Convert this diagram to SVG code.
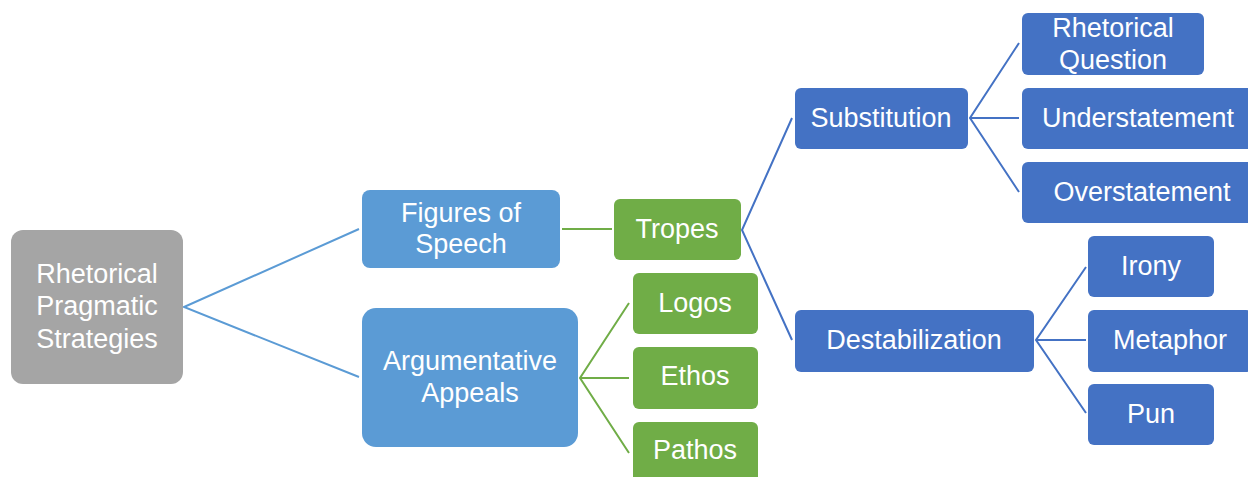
<svg xmlns="http://www.w3.org/2000/svg" width="1248" height="477" viewBox="0 0 1248 477">
<style>
text{font-family:"Liberation Sans",Arial,sans-serif;font-size:27px;fill:#fff;text-anchor:middle}
.gray{fill:#A5A5A5}
.lb{fill:#5B9BD5}
.gr{fill:#70AD47}
.db{fill:#4472C4}
.c{fill:none;stroke-width:2}
.cl{stroke:#5B9BD5}
.cg{stroke:#70AD47}
.cd{stroke:#4472C4}
</style>
<rect width="1248" height="477" fill="#fff"/>
<g id="connectors">
<polyline class="c cl" points="359,229 184,307 359,377"/>
<line class="c cg" x1="562" y1="229" x2="612" y2="229"/>
<polyline class="c cg" points="629,303 580,378 629,453"/>
<line class="c cg" x1="580" y1="378" x2="629" y2="378"/>
<polyline class="c cd" points="792,118 742,230 792,340"/>
<polyline class="c cd" points="1019,43 970,118 1019,192"/>
<line class="c cd" x1="970" y1="118" x2="1019" y2="118"/>
<polyline class="c cd" points="1086,267 1036,340 1086,413"/>
<line class="c cd" x1="1036" y1="340" x2="1086" y2="340"/>
</g>
<g id="root"><rect class="gray" x="11" y="230" width="172" height="154" rx="12"/><text x="97" y="283">Rhetorical</text><text x="97" y="315">Pragmatic</text><text x="97" y="348">Strategies</text></g>
<g id="figures"><rect class="lb" x="362" y="190" width="198" height="78" rx="8"/><text x="461" y="222">Figures of</text><text x="461" y="253">Speech</text></g>
<g id="appeals"><rect class="lb" x="362" y="308" width="216" height="139" rx="14"/><text x="470" y="370">Argumentative</text><text x="470" y="402">Appeals</text></g>
<g id="tropes"><rect class="gr" x="614" y="199" width="127" height="61" rx="6"/><text x="677" y="238">Tropes</text></g>
<g id="logos"><rect class="gr" x="633" y="273" width="125" height="61" rx="6"/><text x="695" y="312">Logos</text></g>
<g id="ethos"><rect class="gr" x="633" y="347" width="125" height="62" rx="6"/><text x="695" y="385">Ethos</text></g>
<g id="pathos"><rect class="gr" x="633" y="422" width="125" height="62" rx="6"/><text x="695" y="459">Pathos</text></g>
<g id="substitution"><rect class="db" x="795" y="88" width="173" height="61" rx="6"/><text x="881" y="127">Substitution</text></g>
<g id="destabilization"><rect class="db" x="795" y="310" width="239" height="62" rx="6"/><text x="914" y="349">Destabilization</text></g>
<g id="rq"><rect class="db" x="1022" y="13" width="182" height="62" rx="6"/><text x="1113" y="37">Rhetorical</text><text x="1113" y="69">Question</text></g>
<g id="under"><rect class="db" x="1022" y="88" width="234" height="61" rx="6"/><text x="1138" y="127">Understatement</text></g>
<g id="over"><rect class="db" x="1022" y="162" width="240" height="61" rx="6"/><text x="1142" y="201">Overstatement</text></g>
<g id="irony"><rect class="db" x="1088" y="236" width="126" height="61" rx="6"/><text x="1151" y="275">Irony</text></g>
<g id="metaphor"><rect class="db" x="1088" y="310" width="164" height="62" rx="6"/><text x="1170" y="349">Metaphor</text></g>
<g id="pun"><rect class="db" x="1088" y="384" width="126" height="61" rx="6"/><text x="1151" y="423">Pun</text></g>
</svg>
